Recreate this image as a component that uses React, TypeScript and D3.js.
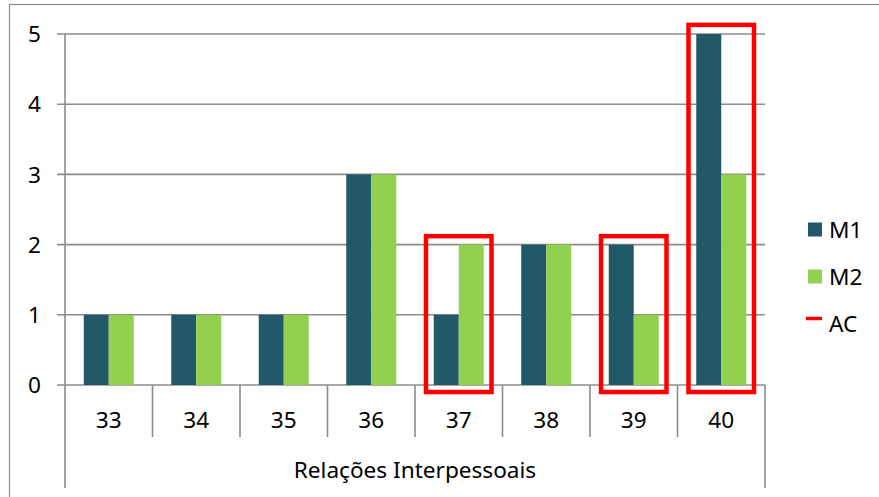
import React from "react";
import * as d3 from "d3";

const categories = ["33", "34", "35", "36", "37", "38", "39", "40"];
const seriesNames = ["M1", "M2"];
const m1Values = [1, 1, 1, 3, 1, 2, 2, 5];
const m2Values = [1, 1, 1, 3, 2, 2, 1, 3];
const yTicks = [0, 1, 2, 3, 4, 5];
const axisTitle = "Relações Interpessoais";
// highlighted ("AC") categories, with box top and bottom in data units
const acCategories = ["37", "39", "40"];
const acTops = [2.12, 2.12, 5.13];
const acBottom = -0.1;
const legendLabels = ["M1", "M2", "AC"];

const colors = { M1: "#215968", M2: "#92D050", AC: "#FF0000" };
const FONT = "'Noto Sans', sans-serif";

export default function App() {
  const W = 879, H = 497;
  const left = 65, right = 765, top = 34, base = 385;
  const x = d3.scaleBand<string>().domain(categories).range([left, right]).paddingInner(0).paddingOuter(0);
  const y = d3.scaleLinear().domain([0, 5]).range([base, top]);
  const bw = x.bandwidth();
  const groupW = bw * (50 / 87.5);
  const xs = d3.scaleBand<string>().domain(seriesNames).range([0, groupW]);
  const grid = "#8c8c8c";
  const boxW = bw * (65.5 / 87.5);
  const fs = 22.6;

  return (
    <svg width={W} height={H} style={{ position: "absolute", left: 0, top: 0, background: "#fff" }} fontFamily={FONT}>
      <rect x={9.5} y={4.5} width={1000} height={1000} fill="#fff" stroke="#8c8c8c" strokeWidth={1.2} />
      {yTicks.map((t) => (
        <g key={t}>
          <line x1={57} x2={right} y1={y(t)} y2={y(t)} stroke={grid} strokeWidth={1.6} />
          <text x={41} y={y(t)} dy="0.36em" textAnchor="end" fontSize={fs} fill="#000">{t}</text>
        </g>
      ))}
      <line x1={left} x2={left} y1={top} y2={488} stroke={grid} strokeWidth={1.6} />
      <line x1={right} x2={right} y1={base} y2={488} stroke={grid} strokeWidth={1.6} />
      {categories.slice(1).map((c) => (
        <line key={c} x1={x(c)!} x2={x(c)!} y1={base} y2={437} stroke={grid} strokeWidth={1.6} />
      ))}
      {categories.map((c, i) => {
        const g0 = x(c)! + (bw - groupW) / 2;
        return (
          <g key={c}>
            <rect x={g0 + xs("M1")!} y={y(m1Values[i])} width={xs.bandwidth()} height={base - y(m1Values[i])} fill={colors.M1} />
            <rect x={g0 + xs("M2")!} y={y(m2Values[i])} width={xs.bandwidth()} height={base - y(m2Values[i])} fill={colors.M2} />
            <text x={x(c)! + bw / 2} y={420} dy="0.36em" textAnchor="middle" fontSize={fs} fill="#000">{c}</text>
          </g>
        );
      })}
      {acCategories.map((c, i) => (
        <rect key={c} x={x(c)! + (bw - boxW) / 2} y={y(acTops[i])} width={boxW} height={y(acBottom) - y(acTops[i])}
          fill="none" stroke={colors.AC} strokeWidth={4.5} />
      ))}
      <text x={(left + right) / 2} y={470} dy="0.36em" textAnchor="middle" fontSize={fs} fill="#000">{axisTitle}</text>
      {legendLabels.map((l, i) => {
        const cy = 229.5 + i * 47;
        return (
          <g key={l}>
            {l === "AC" ? (
              <line x1={806} x2={822} y1={cy - 5} y2={cy - 5} stroke={colors.AC} strokeWidth={3.5} />
            ) : (
              <rect x={808} y={cy - 7} width={14} height={14} fill={(colors as any)[l]} />
            )}
            <text x={829} y={cy} dy="0.36em" fontSize={fs} fill="#000">{l}</text>
          </g>
        );
      })}
    </svg>
  );
}
